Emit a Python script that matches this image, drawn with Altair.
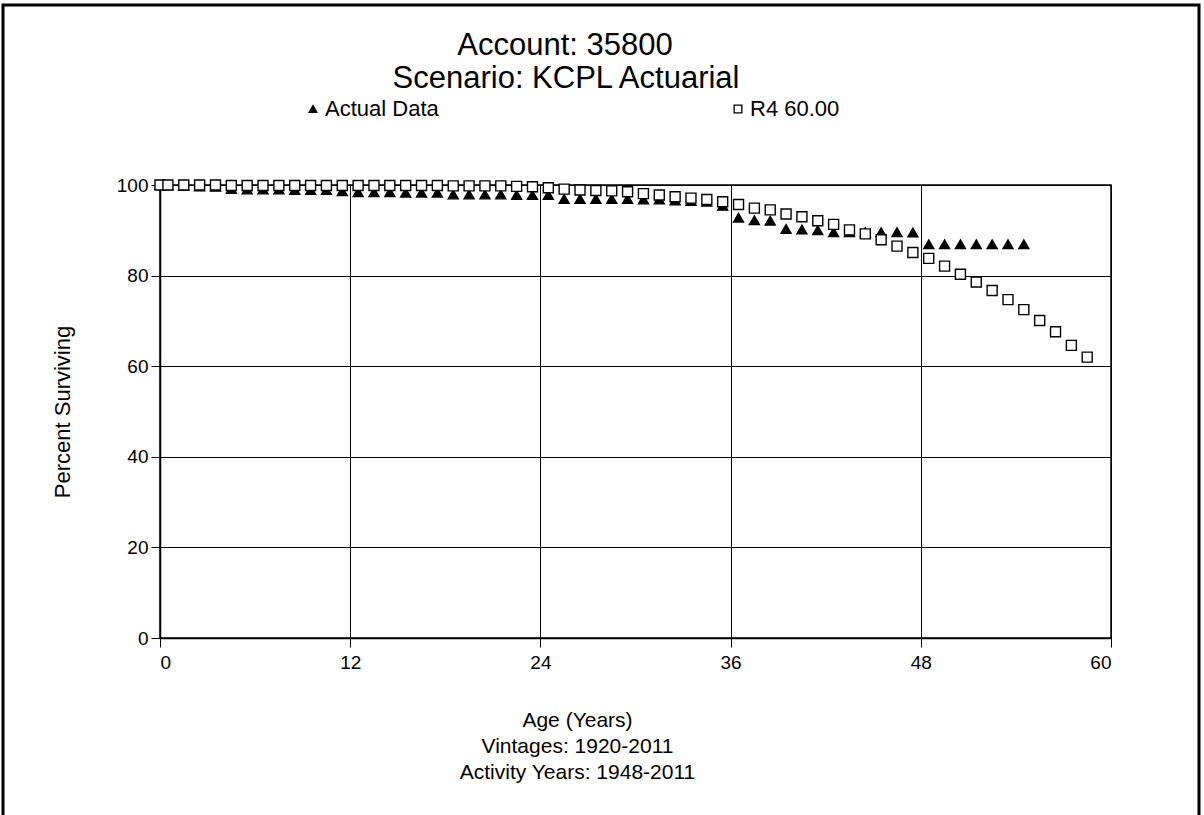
import altair as alt
import pandas as pd

# ---- data ----
actual_age = [0, 0.5, 1.5, 2.5, 3.5, 4.5, 5.5, 6.5, 7.5, 8.5, 9.5, 10.5, 11.5, 12.5, 13.5,
              14.5, 15.5, 16.5, 17.5, 18.5, 19.5, 20.5, 21.5, 22.5, 23.5, 24.5, 25.5, 26.5,
              27.5, 28.5, 29.5, 30.5, 31.5, 32.5, 33.5, 34.5, 35.5, 36.5, 37.5, 38.5, 39.5,
              40.5, 41.5, 42.5, 43.5, 44.5, 45.5, 46.5, 47.5, 48.5, 49.5, 50.5, 51.5, 52.5,
              53.5, 54.5]
actual_pct = [100.0, 99.9, 99.8, 99.7, 99.6, 99.1, 99.0, 99.0, 99.0, 98.9, 98.9, 98.9, 98.6,
              98.4, 98.4, 98.4, 98.3, 98.3, 98.3, 97.9, 97.9, 97.9, 97.9, 97.8, 97.8, 97.8,
              96.9, 96.9, 96.9, 96.9, 96.9, 96.8, 96.8, 96.6, 96.5, 96.3, 95.4, 92.8, 92.2,
              92.1, 90.3, 90.2, 90.0, 89.6, 89.6, 89.6, 89.6, 89.6, 89.5, 86.9, 86.9, 86.9,
              86.9, 86.9, 86.9, 86.9]

r4_age = [0, 0.5, 1.5, 2.5, 3.5, 4.5, 5.5, 6.5, 7.5, 8.5, 9.5, 10.5, 11.5, 12.5, 13.5, 14.5,
          15.5, 16.5, 17.5, 18.5, 19.5, 20.5, 21.5, 22.5, 23.5, 24.5, 25.5, 26.5, 27.5, 28.5,
          29.5, 30.5, 31.5, 32.5, 33.5, 34.5, 35.5, 36.5, 37.5, 38.5, 39.5, 40.5, 41.5, 42.5,
          43.5, 44.5, 45.5, 46.5, 47.5, 48.5, 49.5, 50.5, 51.5, 52.5, 53.5, 54.5, 55.5, 56.5,
          57.5, 58.5]
r4_pct = [100.0, 100.0, 100.0, 100.0, 100.0, 99.9, 99.9, 99.9, 99.9, 99.9, 99.9, 99.9, 99.9,
          99.9, 99.9, 99.9, 99.9, 99.9, 99.9, 99.8, 99.8, 99.8, 99.8, 99.7, 99.6, 99.4, 99.1,
          98.9, 98.8, 98.7, 98.5, 98.1, 97.8, 97.4, 97.1, 96.8, 96.3, 95.7, 94.9, 94.5, 93.6,
          93.0, 92.1, 91.3, 90.1, 89.2, 87.9, 86.5, 85.1, 83.8, 82.1, 80.3, 78.6, 76.7, 74.7,
          72.5, 70.1, 67.6, 64.6, 62.0]

series_names = ["Actual Data", "R4 60.00"]
x_ticks = [0, 12, 24, 36, 48, 60]
y_ticks = [0, 20, 40, 60, 80, 100]
title_lines = ["Account: 35800", "Scenario: KCPL Actuarial"]
x_title_lines = ["Age (Years)", "Vintages: 1920-2011", "Activity Years: 1948-2011"]
y_title = "Percent Surviving"

df = pd.concat([
    pd.DataFrame({"age": actual_age, "pct": actual_pct, "series": series_names[0], "ord": 0}),
    pd.DataFrame({"age": r4_age, "pct": r4_pct, "series": series_names[1], "ord": 1}),
], ignore_index=True)

FONT = "Liberation Sans"
W, H = 951, 453

legend = alt.Legend(
    title=None, orient="none", legendX=142, legendY=-87, direction="horizontal",
    columnPadding=288, labelFont=FONT, labelFontSize=22, labelColor="black",
    symbolSize=60, symbolStrokeColor="black", symbolStrokeWidth=1.3, labelOffset=1,
)

points = alt.Chart(df).mark_point(
    strokeWidth=1.4, opacity=1, fillOpacity=1, size=100
).encode(
    x=alt.X("age:Q", scale=alt.Scale(domain=[0, 60], nice=False),
            axis=alt.Axis(values=x_ticks, title=x_title_lines, titleX=417, titleY=71,
                          titleBaseline="top", titleAlign="center", titleAngle=0,
                          titleLineHeight=26)),
    y=alt.Y("pct:Q", scale=alt.Scale(domain=[0, 100], nice=False),
            axis=alt.Axis(values=y_ticks, title=y_title, titleX=-86, titleY=H / 2,
                          titleFontSize=22, labelPadding=3)),
    shape=alt.Shape("series:N", scale=alt.Scale(domain=series_names,
                                                range=["triangle-up", "square"]), legend=legend),
    fill=alt.Fill("series:N", scale=alt.Scale(domain=series_names,
                                              range=["black", "white"]), legend=legend),
    stroke=alt.Stroke("series:N", scale=alt.Scale(domain=series_names,
                                                  range=["black", "black"]), legend=legend),
    order=alt.Order("ord:Q"),
)

frame = alt.Chart(pd.DataFrame({"k": [0]})).mark_rect(
    fill=None, stroke="black", strokeWidth=3
).encode(x=alt.value(-157), x2=alt.value(1039), y=alt.value(-180), y2=alt.value(700))

title1 = alt.Chart(pd.DataFrame({"t": [title_lines[0]]})).mark_text(
    font=FONT, fontSize=31, color="black", align="center", baseline="middle"
).encode(text="t:N", x=alt.value(405), y=alt.value(-139))

title2 = alt.Chart(pd.DataFrame({"t": [title_lines[1]]})).mark_text(
    font=FONT, fontSize=31, color="black", align="center", baseline="middle"
).encode(text="t:N", x=alt.value(406), y=alt.value(-106))

chart = alt.layer(frame, title1, title2, points).properties(
    width=W, height=H,
    autosize=alt.AutoSizeParams(type="none"),
    padding={"left": 160, "top": 185, "right": 93, "bottom": 177},
).configure(background="white").configure_view(
    stroke="black", strokeWidth=1.5
).configure_axis(
    grid=True, gridColor="black", gridOpacity=1, gridWidth=1,
    domainColor="black", domainWidth=1.5, tickColor="black", tickSize=9, tickWidth=1,
    labelFont=FONT, labelFontSize=19, labelColor="black", labelPadding=6,
    titleFont=FONT, titleFontSize=21, titleFontWeight="normal", titleColor="black",
)

chart.save("out.html", embed_options={"renderer": "svg", "actions": False})
